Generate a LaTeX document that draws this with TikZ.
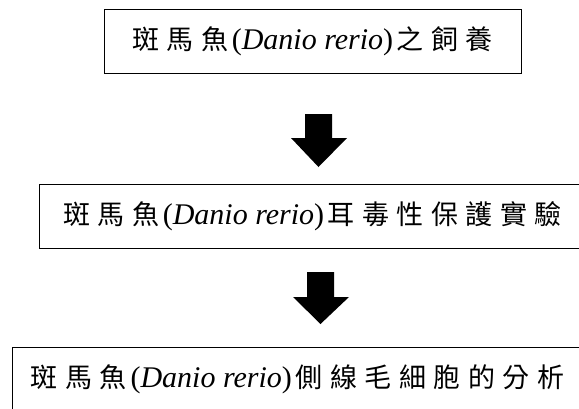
\documentclass[tikz,border=0pt]{standalone}
\usepackage{fontspec}
\setmainfont{Liberation Serif}
\newfontfamily\cjk{Noto Sans CJK TC}
\newcommand\CJ[1]{\makebox[34.5pt]{\cjk\fontsize{27}{27}\selectfont #1}}
\newcommand\DR{{\fontsize{30}{30}\selectfont(\textit{Danio rerio})}}
\begin{document}
\begin{tikzpicture}[x=1pt,y=-1pt,
  box/.style={draw=black,line width=1pt,rectangle,inner sep=0pt,minimum height=64pt,anchor=center},
  blockarrow/.style={fill=black,draw=none}]
\useasboundingbox (0,0) rectangle (579,408);
\node[box,minimum width=417pt] (b1) at (312.5,41)
  {\CJ{斑}\CJ{馬}\CJ{魚}\DR\CJ{之}\CJ{飼}\CJ{養}};
\node[box,minimum width=547pt] (b2) at (312.5,216.5)
  {\CJ{斑}\CJ{馬}\CJ{魚}\DR\CJ{耳}\CJ{毒}\CJ{性}\CJ{保}\CJ{護}\CJ{實}\CJ{驗}};
\node[box,minimum width=571pt] (b3) at (297.5,379)
  {\CJ{斑}\CJ{馬}\CJ{魚}\DR\CJ{側}\CJ{線}\CJ{毛}\CJ{細}\CJ{胞}\CJ{的}\CJ{分}\CJ{析}};
% block arrows
\coordinate (a1) at (318.5,114);
\fill[blockarrow] (a1) ++(-13.5,0) -- ++(27,0) -- ++(0,24) -- ++(15,0) -- (318.5,167) -- (291,138) -- ++(14,0) -- cycle;
\coordinate (a2) at (320.5,272);
\fill[blockarrow] (a2) ++(-13.5,0) -- ++(27,0) -- ++(0,25) -- ++(15,0) -- (320.5,324) -- (293,297) -- ++(14,0) -- cycle;
\end{tikzpicture}
\end{document}
